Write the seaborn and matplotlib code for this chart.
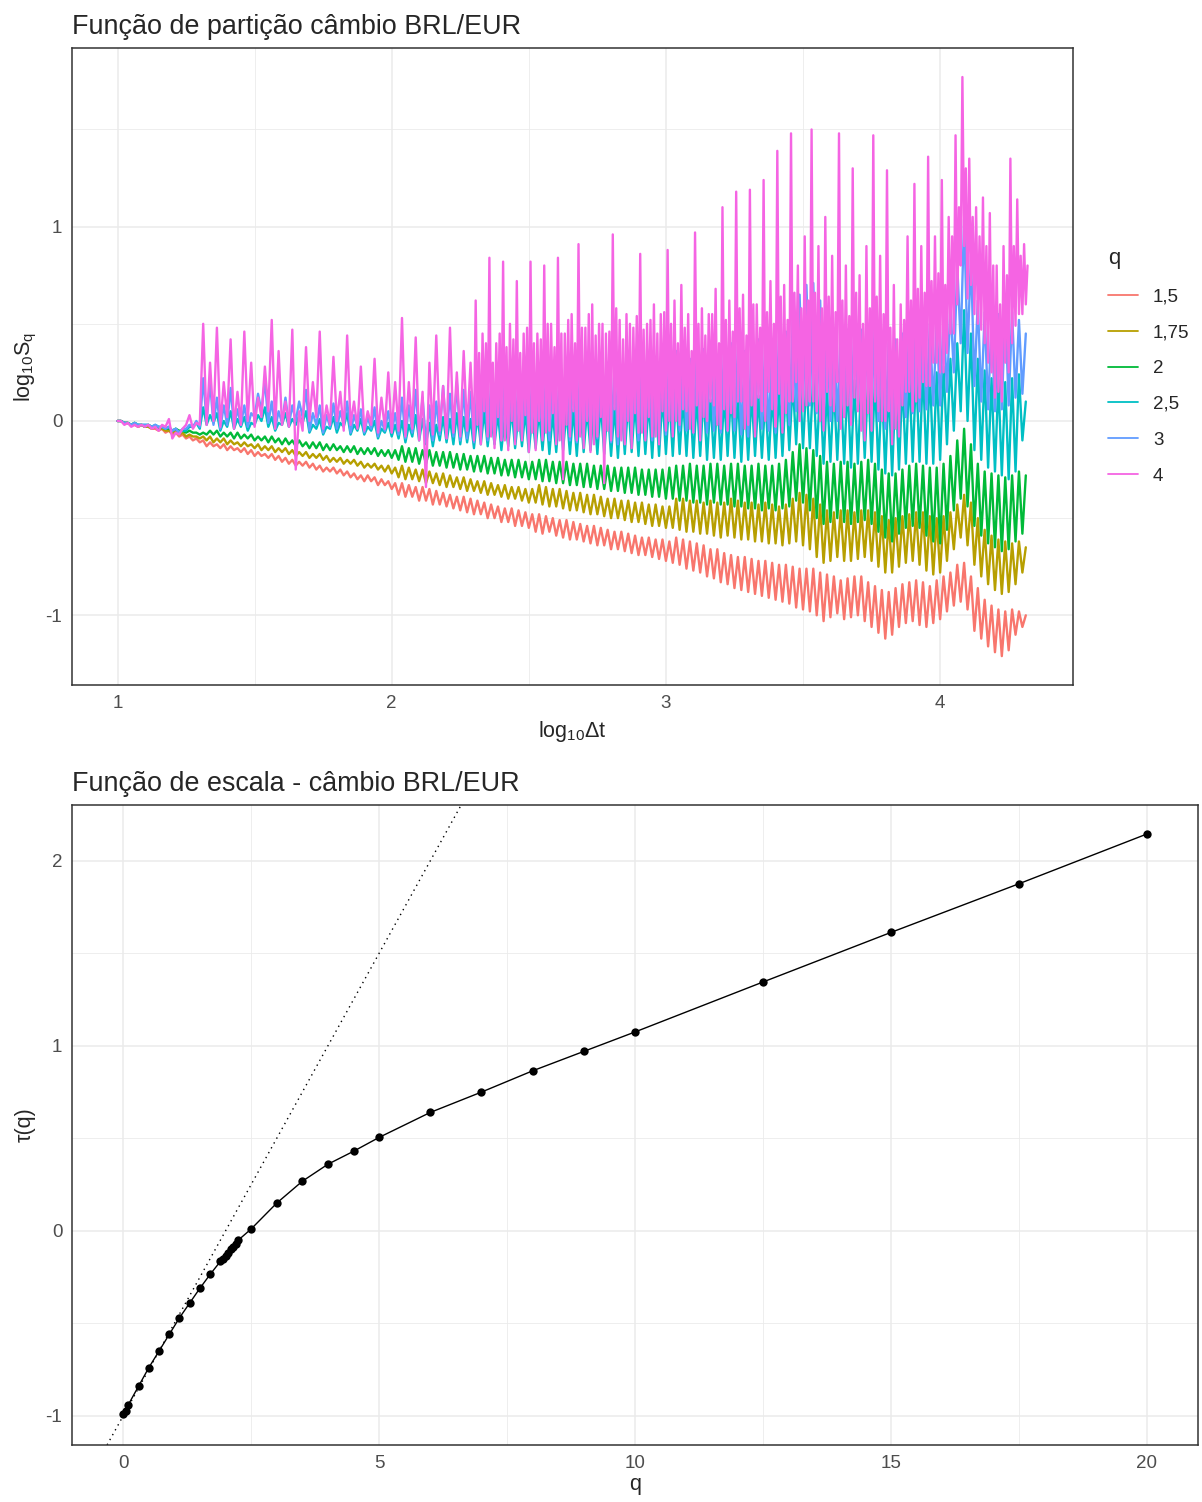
import numpy as np
import pandas as pd
import matplotlib
matplotlib.use("Agg")
import matplotlib.pyplot as plt
from matplotlib.lines import Line2D
from matplotlib.ticker import MultipleLocator
import seaborn as sns

# ---- Partition function: lower / upper readings of log10 S_q along log10(dt), step 0.025 ----
log_dt = np.round(1.0 + 0.025 * np.arange(133), 3)

q_levels = ["1,5", "1,75", "2", "2,5", "3", "4"]
q_colors = ["#F8766D", "#B79F00", "#00BA38", "#00BFC4", "#619CFF", "#F564E3"]

sq_15_lo = [0.00, -0.01, -0.02, -0.03, -0.03, -0.04, -0.05, -0.06, -0.07, -0.08, -0.09, -0.10, -0.11,
            -0.13, -0.13, -0.14, -0.15, -0.15, -0.16, -0.17, -0.18, -0.18, -0.19, -0.20, -0.21, -0.22, -0.23,
            -0.23, -0.24, -0.25, -0.26, -0.26, -0.27, -0.28, -0.29, -0.30, -0.31, -0.31, -0.33, -0.33, -0.35,
            -0.38, -0.39, -0.39, -0.41, -0.41, -0.43, -0.43, -0.44, -0.45, -0.46,
            -0.47, -0.48, -0.48, -0.50, -0.50, -0.52, -0.52, -0.54, -0.54, -0.55,
            -0.57, -0.58, -0.57, -0.59, -0.60, -0.61, -0.61, -0.62, -0.63, -0.64,
            -0.64, -0.66, -0.66, -0.67, -0.68, -0.69, -0.69, -0.70, -0.71, -0.72,
            -0.73, -0.74, -0.76, -0.77, -0.78, -0.80, -0.81, -0.83, -0.84, -0.86,
            -0.87, -0.88, -0.89, -0.90, -0.91, -0.92, -0.93, -0.94, -0.96, -0.97,
            -0.98, -1.00, -1.03, -1.01, -0.99, -1.02, -1.01, -1.00, -1.03, -1.06,
            -1.09, -1.12, -1.10, -1.06, -1.04, -1.03, -1.05, -1.06, -1.04, -1.02,
            -0.98, -0.95, -0.93, -0.97, -1.08, -1.12, -1.16, -1.19, -1.21, -1.18, -1.10, -1.06]
sq_15_hi = [0.00, -0.01, -0.02, -0.02, -0.03, -0.04, -0.04, -0.05, -0.06, -0.07, -0.08, -0.09, -0.10,
            -0.11, -0.12, -0.12, -0.13, -0.14, -0.14, -0.15, -0.16, -0.17, -0.17, -0.18, -0.19, -0.20, -0.21,
            -0.21, -0.22, -0.23, -0.24, -0.24, -0.25, -0.26, -0.27, -0.28, -0.28, -0.29, -0.30, -0.31, -0.32,
            -0.32, -0.33, -0.34, -0.34, -0.35, -0.36, -0.37, -0.38, -0.39, -0.39,
            -0.40, -0.41, -0.42, -0.43, -0.44, -0.45, -0.45, -0.46, -0.47, -0.48,
            -0.48, -0.49, -0.50, -0.51, -0.51, -0.52, -0.53, -0.54, -0.54, -0.55,
            -0.56, -0.57, -0.57, -0.58, -0.59, -0.60, -0.60, -0.61, -0.61, -0.62,
            -0.60, -0.61, -0.62, -0.63, -0.64, -0.66, -0.66, -0.68, -0.69, -0.70,
            -0.70, -0.71, -0.72, -0.72, -0.73, -0.74, -0.74, -0.75, -0.76, -0.76,
            -0.76, -0.78, -0.79, -0.80, -0.82, -0.81, -0.80, -0.80, -0.83, -0.85,
            -0.87, -0.88, -0.86, -0.84, -0.83, -0.82, -0.83, -0.85, -0.82, -0.80,
            -0.78, -0.74, -0.73, -0.80, -0.86, -0.92, -0.95, -0.97, -0.98, -0.97, -0.98, -1.00]

sq_175_lo = [0.00, -0.01, -0.02, -0.03, -0.03, -0.04, -0.04, -0.05, -0.06, -0.07, -0.08, -0.08, -0.09,
             -0.10, -0.11, -0.11, -0.12, -0.12, -0.13, -0.13, -0.14, -0.15, -0.15, -0.16, -0.16, -0.17, -0.18,
             -0.18, -0.19, -0.19, -0.20, -0.21, -0.21, -0.22, -0.22, -0.23, -0.24, -0.24, -0.25, -0.26, -0.27,
             -0.29, -0.30, -0.30, -0.31, -0.32, -0.32, -0.33, -0.34, -0.34, -0.35,
             -0.36, -0.36, -0.37, -0.38, -0.38, -0.39, -0.40, -0.40, -0.41, -0.42,
             -0.42, -0.43, -0.44, -0.44, -0.45, -0.46, -0.46, -0.47, -0.48, -0.48,
             -0.49, -0.50, -0.50, -0.51, -0.52, -0.52, -0.53, -0.54, -0.54, -0.55,
             -0.55, -0.56, -0.57, -0.57, -0.58, -0.58, -0.59, -0.60, -0.59, -0.60,
             -0.61, -0.61, -0.62, -0.62, -0.63, -0.63, -0.64, -0.63, -0.62, -0.64,
             -0.66, -0.70, -0.73, -0.72, -0.70, -0.72, -0.72, -0.71, -0.70, -0.72,
             -0.75, -0.78, -0.78, -0.75, -0.73, -0.72, -0.74, -0.77, -0.79, -0.78,
             -0.72, -0.66, -0.60, -0.64, -0.74, -0.80, -0.84, -0.87, -0.89, -0.88, -0.84, -0.78]
sq_175_hi = [0.00, -0.01, -0.01, -0.02, -0.03, -0.03, -0.04, -0.05, -0.05, -0.06, -0.07, -0.08, -0.08,
             -0.08, -0.09, -0.09, -0.10, -0.11, -0.11, -0.12, -0.12, -0.13, -0.13, -0.14, -0.14, -0.15, -0.16,
             -0.16, -0.17, -0.17, -0.18, -0.19, -0.19, -0.20, -0.20, -0.21, -0.22, -0.22, -0.23, -0.23, -0.24,
             -0.23, -0.24, -0.25, -0.25, -0.26, -0.27, -0.27, -0.28, -0.29, -0.29,
             -0.30, -0.31, -0.31, -0.32, -0.33, -0.33, -0.34, -0.34, -0.35, -0.35,
             -0.33, -0.34, -0.35, -0.35, -0.36, -0.37, -0.37, -0.38, -0.38, -0.39,
             -0.40, -0.40, -0.41, -0.41, -0.42, -0.42, -0.43, -0.43, -0.44, -0.44,
             -0.40, -0.40, -0.41, -0.41, -0.42, -0.41, -0.42, -0.42, -0.40, -0.41,
             -0.42, -0.42, -0.43, -0.42, -0.43, -0.44, -0.43, -0.40, -0.37, -0.38,
             -0.40, -0.43, -0.46, -0.47, -0.46, -0.46, -0.47, -0.46, -0.46, -0.47,
             -0.49, -0.51, -0.50, -0.49, -0.48, -0.47, -0.47, -0.49, -0.50, -0.49,
             -0.47, -0.43, -0.38, -0.42, -0.50, -0.56, -0.59, -0.61, -0.62, -0.63, -0.62, -0.65]

sq_2_lo = [0.00, -0.01, -0.02, -0.02, -0.03, -0.03, -0.04, -0.04, -0.05, -0.05, -0.06, -0.06, -0.07,
           -0.07, -0.07, -0.08, -0.08, -0.09, -0.09, -0.09, -0.10, -0.10, -0.11, -0.11, -0.12, -0.12, -0.13,
           -0.13, -0.14, -0.14, -0.15, -0.15, -0.15, -0.16, -0.16, -0.17, -0.17, -0.17, -0.18, -0.18, -0.19,
           -0.20, -0.21, -0.21, -0.22, -0.22, -0.23, -0.23, -0.24, -0.24, -0.25,
           -0.25, -0.26, -0.26, -0.27, -0.27, -0.28, -0.28, -0.29, -0.29, -0.30,
           -0.30, -0.31, -0.31, -0.32, -0.32, -0.33, -0.33, -0.34, -0.34, -0.35,
           -0.35, -0.36, -0.36, -0.37, -0.37, -0.38, -0.38, -0.39, -0.39, -0.40,
           -0.40, -0.41, -0.41, -0.42, -0.42, -0.43, -0.42, -0.43, -0.43, -0.44,
           -0.44, -0.45, -0.45, -0.46, -0.45, -0.46, -0.45, -0.44, -0.41, -0.42,
           -0.46, -0.50, -0.53, -0.52, -0.50, -0.52, -0.53, -0.52, -0.51, -0.53,
           -0.57, -0.60, -0.62, -0.58, -0.55, -0.54, -0.55, -0.59, -0.62, -0.63,
           -0.56, -0.46, -0.40, -0.44, -0.54, -0.59, -0.63, -0.65, -0.67, -0.66, -0.62, -0.58]
sq_2_hi = [0.00, -0.01, -0.01, -0.02, -0.02, -0.03, -0.03, -0.04, -0.04, -0.05, -0.05, -0.06, -0.06,
           -0.05, -0.05, -0.06, -0.06, -0.06, -0.07, -0.07, -0.08, -0.08, -0.08, -0.09, -0.09, -0.10, -0.10,
           -0.11, -0.11, -0.11, -0.12, -0.12, -0.13, -0.13, -0.13, -0.14, -0.14, -0.14, -0.15, -0.15, -0.15,
           -0.13, -0.14, -0.14, -0.15, -0.15, -0.16, -0.16, -0.16, -0.17, -0.17,
           -0.18, -0.18, -0.18, -0.19, -0.19, -0.20, -0.20, -0.20, -0.21, -0.21,
           -0.20, -0.20, -0.21, -0.21, -0.21, -0.22, -0.22, -0.22, -0.23, -0.23,
           -0.23, -0.24, -0.24, -0.24, -0.24, -0.25, -0.25, -0.25, -0.25, -0.24,
           -0.23, -0.23, -0.22, -0.23, -0.23, -0.22, -0.22, -0.23, -0.22, -0.22,
           -0.23, -0.23, -0.22, -0.23, -0.23, -0.22, -0.20, -0.16, -0.12, -0.14,
           -0.15, -0.18, -0.21, -0.22, -0.21, -0.21, -0.22, -0.21, -0.20, -0.22,
           -0.25, -0.27, -0.27, -0.25, -0.23, -0.22, -0.23, -0.24, -0.24, -0.22,
           -0.18, -0.10, -0.04, -0.12, -0.22, -0.26, -0.27, -0.28, -0.29, -0.28, -0.26, -0.28]

sq_25_lo = [0.00, -0.01, -0.02, -0.02, -0.02, -0.03, -0.03, -0.04, -0.05, -0.06, -0.05, -0.03, -0.04,
            -0.02, -0.01, -0.05, -0.03, -0.04, -0.03, -0.05, -0.02, 0.00, -0.03, -0.05, -0.02, -0.03, -0.02,
            -0.01, -0.06, -0.04, -0.07, -0.04, -0.06, -0.03, -0.07, -0.05, -0.07, -0.05, -0.09, -0.06, -0.08,
            -0.09, -0.11, -0.08, -0.10, -0.12, -0.13, -0.10, -0.11, -0.12, -0.12,
            -0.11, -0.14, -0.12, -0.13, -0.12, -0.15, -0.13, -0.14, -0.13, -0.16,
            -0.14, -0.15, -0.17, -0.16, -0.15, -0.17, -0.18, -0.16, -0.15, -0.17,
            -0.17, -0.18, -0.19, -0.17, -0.16, -0.18, -0.17, -0.19, -0.18, -0.17,
            -0.18, -0.17, -0.18, -0.19, -0.18, -0.20, -0.19, -0.20, -0.18, -0.19,
            -0.21, -0.20, -0.18, -0.19, -0.20, -0.19, -0.18, -0.15, -0.12, -0.14,
            -0.14, -0.18, -0.22, -0.21, -0.20, -0.22, -0.24, -0.22, -0.19, -0.21,
            -0.25, -0.27, -0.28, -0.25, -0.22, -0.21, -0.21, -0.22, -0.22, -0.20,
            -0.12, -0.05, 0.05, 0.00, -0.15, -0.20, -0.24, -0.26, -0.28, -0.30, -0.26, -0.10]
sq_25_hi = [0.00, -0.01, -0.01, -0.02, -0.02, -0.02, -0.03, -0.03, -0.04, -0.05, -0.03, -0.01, 0.07,
            0.03, 0.04, 0.00, 0.05, 0.01, 0.02, -0.01, 0.03, 0.07, 0.02, -0.01, 0.04, 0.01, 0.03,
            0.05, -0.02, 0.01, -0.03, 0.02, -0.01, 0.04, -0.02, 0.01, -0.03, 0.00, -0.04, -0.01, -0.02,
            0.00, -0.02, 0.03, 0.01, -0.01, -0.02, 0.02, 0.01, 0.04, 0.02,
            0.01, 0.03, 0.05, 0.03, 0.04, 0.02, 0.06, 0.04, 0.05, 0.03,
            0.05, 0.06, 0.04, 0.07, 0.05, 0.06, 0.08, 0.06, 0.07, 0.09,
            0.08, 0.07, 0.09, 0.10, 0.09, 0.11, 0.10, 0.12, 0.13, 0.12,
            0.14, 0.12, 0.13, 0.12, 0.14, 0.11, 0.12, 0.13, 0.15, 0.13,
            0.12, 0.14, 0.13, 0.12, 0.14, 0.15, 0.17, 0.20, 0.25, 0.22,
            0.24, 0.18, 0.16, 0.18, 0.19, 0.20, 0.21, 0.22, 0.22, 0.21,
            0.19, 0.18, 0.19, 0.21, 0.24, 0.26, 0.27, 0.26, 0.25, 0.28,
            0.32, 0.40, 0.57, 0.45, 0.32, 0.26, 0.22, 0.21, 0.20, 0.22, 0.24, 0.10]

sq_3_lo = [0.00, -0.01, -0.02, -0.02, -0.02, -0.03, -0.03, -0.04, -0.05, -0.06, -0.04, -0.03, -0.03,
           0.00, -0.02, -0.04, -0.02, -0.03, -0.02, -0.03, 0.02, 0.05, -0.01, -0.04, -0.01, -0.02, 0.00,
           0.02, -0.05, -0.02, -0.06, -0.03, -0.04, -0.02, -0.06, -0.03, -0.06, -0.04, -0.08, -0.05, -0.06,
           -0.07, -0.09, -0.06, -0.08, -0.11, -0.10, -0.07, -0.09, -0.08, -0.10,
           -0.09, -0.11, -0.09, -0.10, -0.11, -0.10, -0.08, -0.10, -0.09, -0.11,
           -0.08, -0.09, -0.10, -0.09, -0.08, -0.10, -0.11, -0.09, -0.08, -0.09,
           -0.10, -0.11, -0.12, -0.10, -0.09, -0.10, -0.09, -0.10, -0.08, -0.07,
           -0.06, -0.05, -0.05, -0.06, -0.07, -0.06, -0.05, -0.06, -0.05, -0.05,
           -0.07, -0.08, -0.05, -0.04, -0.05, -0.06, -0.03, -0.02, 0.05, 0.08,
           0.08, 0.04, -0.02, 0.00, 0.00, 0.02, 0.05, 0.10, 0.14, 0.08,
           0.00, -0.04, -0.05, 0.00, 0.02, 0.04, 0.05, 0.06, 0.08, 0.08,
           0.15, 0.25, 0.40, 0.35, 0.18, 0.10, 0.06, 0.05, 0.06, 0.08, 0.12, 0.14]
sq_3_hi = [0.00, -0.01, -0.01, -0.02, -0.02, -0.02, -0.03, -0.03, -0.04, -0.04, -0.02, 0.00, 0.22,
           0.20, 0.12, 0.08, 0.17, 0.06, 0.08, 0.04, 0.14, 0.21, 0.10, 0.05, 0.12, 0.08, 0.10,
           0.16, 0.04, 0.08, 0.03, 0.09, 0.05, 0.10, 0.03, 0.06, 0.02, 0.07, 0.00, 0.05, 0.04,
           0.12, 0.08, 0.16, 0.12, 0.08, 0.10, 0.18, 0.14, 0.20, 0.16,
           0.15, 0.18, 0.22, 0.19, 0.18, 0.21, 0.24, 0.22, 0.20, 0.23,
           0.24, 0.22, 0.26, 0.25, 0.24, 0.27, 0.28, 0.26, 0.25, 0.29,
           0.30, 0.28, 0.27, 0.30, 0.31, 0.30, 0.32, 0.33, 0.34, 0.35,
           0.36, 0.34, 0.32, 0.35, 0.37, 0.36, 0.34, 0.38, 0.40, 0.38,
           0.36, 0.40, 0.42, 0.41, 0.40, 0.44, 0.46, 0.52, 0.65, 0.70,
           0.71, 0.62, 0.48, 0.47, 0.46, 0.47, 0.48, 0.47, 0.49, 0.52,
           0.46, 0.40, 0.42, 0.45, 0.50, 0.55, 0.52, 0.50, 0.51, 0.54,
           0.60, 0.80, 1.04, 0.85, 0.62, 0.56, 0.52, 0.55, 0.59, 0.56, 0.52, 0.45]

sq_4_lo = [0.00, -0.02, -0.03, -0.03, -0.03, -0.04, -0.05, -0.03, -0.09, -0.07, -0.02, -0.04, -0.02,
           -0.02, 0.00, -0.03, 0.02, -0.04, -0.02, 0.00, -0.03, 0.02, 0.05, -0.04, -0.02, -0.03, -0.25,
           -0.05, 0.00, 0.02, -0.04, -0.02, 0.00, -0.05, -0.02, -0.04, -0.05, -0.02, -0.06, -0.04, -0.06,
           -0.05, -0.08, -0.04, -0.10, -0.34, -0.07, -0.05, -0.09, -0.06, -0.08,
           -0.05, -0.10, -0.12, -0.08, -0.14, -0.10, -0.15, -0.12, -0.10, -0.16,
           -0.15, -0.10, -0.05, -0.12, -0.30, -0.08, -0.10, -0.14, -0.16, -0.08,
           -0.32, -0.10, -0.08, -0.12, -0.14, -0.06, -0.10, -0.08, -0.12, -0.05,
           -0.08, -0.02, 0.05, -0.06, -0.10, 0.00, 0.08, -0.04, -0.05, 0.02,
           0.10, -0.02, -0.08, 0.05, 0.15, -0.03, -0.06, 0.10, 0.20, 0.05,
           0.10, 0.05, -0.05, 0.08, 0.20, 0.02, -0.02, 0.05, -0.10, -0.05,
           0.05, 0.00, -0.12, -0.08, 0.15, 0.05, 0.12, 0.18, 0.30, 0.25,
           0.35, 0.45, 0.80, 0.63, 0.55, 0.47, 0.30, 0.12, 0.10, 0.25, 0.49, 0.55]
sq_4_hi = [0.00, -0.01, -0.02, -0.02, -0.02, -0.03, -0.02, 0.01, -0.06, -0.04, 0.03, -0.01, 0.50,
           0.30, 0.48, 0.20, 0.42, 0.15, 0.46, 0.30, 0.12, 0.28, 0.52, 0.36, 0.10, 0.47, 0.05,
           0.38, 0.20, 0.46, 0.08, 0.33, 0.15, 0.44, 0.10, 0.28, 0.05, 0.32, 0.12, 0.25, 0.20,
           0.53, 0.20, 0.43, 0.15, 0.30, 0.44, 0.18, 0.48, 0.25, 0.36,
           0.30, 0.62, 0.45, 0.84, 0.40, 0.82, 0.50, 0.72, 0.45, 0.82,
           0.45, 0.80, 0.50, 0.84, 0.45, 0.55, 0.91, 0.48, 0.60, 0.50,
           0.45, 0.96, 0.52, 0.55, 0.48, 0.86, 0.50, 0.60, 0.55, 0.88,
           0.62, 0.70, 0.55, 0.97, 0.58, 0.55, 0.68, 1.10, 0.62, 1.18,
           0.65, 1.19, 0.60, 1.24, 0.72, 1.39, 0.70, 1.48, 0.80, 0.95,
           1.50, 0.90, 1.05, 0.85, 1.48, 0.80, 1.30, 0.75, 0.90, 1.47,
           0.85, 1.29, 0.70, 0.60, 0.95, 1.22, 0.90, 1.36, 0.95, 1.24,
           1.05, 1.47, 1.77, 1.35, 1.10, 1.15, 1.07, 0.80, 0.90, 1.35, 1.14, 0.91]
# q = 4 is sampled twice as finely from log10(dt) = 2.3 on (dense part of the band)
dense_from = 52
sq_4_lo2 = [-0.02, 0.05, -0.08, 0.02, -0.10, 0.00, -0.05, 0.03, -0.06,
            0.00, -0.06, 0.04, -0.10, -0.02, 0.05, -0.08, 0.00, -0.12, 0.02,
            -0.05, 0.06, -0.10, 0.00, 0.04, -0.06, 0.02, -0.08, 0.05, 0.00,
            0.00, 0.06, -0.04, 0.08, 0.02, 0.10, -0.02, 0.06, 0.04, 0.10,
            -0.04, 0.08, 0.12, 0.00, 0.06, 0.14, 0.04, 0.10, 0.00, 0.08,
            0.10, 0.00, 0.15, 0.05, -0.04, 0.08, 0.12, -0.05, 0.04, 0.10,
            0.00, 0.05, -0.04, 0.08, 0.15, 0.10, 0.20, 0.18, 0.30, 0.25,
            0.45, 0.60, 0.90, 0.70, 0.50, 0.40, 0.25, 0.15, 0.30, 0.40, 0.55, 0.60]
sq_4_mid = [0.35, 0.40, 0.30, 0.45, 0.38, 0.42, 0.35, 0.48, 0.40,
            0.42, 0.50, 0.38, 0.45, 0.52, 0.40, 0.48, 0.55, 0.44, 0.50,
            0.46, 0.58, 0.42, 0.50, 0.54, 0.47, 0.52, 0.45, 0.56, 0.50,
            0.40, 0.48, 0.36, 0.50, 0.44, 0.55, 0.40, 0.52, 0.46, 0.58,
            0.44, 0.60, 0.48, 0.56, 0.50, 0.64, 0.52, 0.66, 0.58, 0.62,
            0.66, 0.58, 0.64, 0.56, 0.62, 0.54, 0.66, 0.50, 0.58, 0.64,
            0.55, 0.48, 0.42, 0.52, 0.62, 0.68, 0.66, 0.72, 0.76, 0.70,
            0.95, 1.10, 1.30, 1.05, 0.95, 0.90, 0.80, 0.60, 0.75, 0.90, 0.85, 0.80]

# ---- Scaling function tau(q) ----
q_vals = [0, 0.05, 0.1, 0.3, 0.5, 0.7, 0.9, 1.1, 1.3, 1.5, 1.7, 1.9, 1.95, 2.0, 2.05, 2.1,
          2.15, 2.2, 2.25, 2.5, 3, 3.5, 4, 4.5, 5, 6, 7, 8, 9, 10, 12.5, 15, 17.5, 20]
tau_vals = [-0.99, -0.975, -0.94, -0.84, -0.74, -0.65, -0.56, -0.47, -0.39, -0.31, -0.235,
            -0.165, -0.15, -0.135, -0.12, -0.10, -0.085, -0.07, -0.05, 0.01, 0.15, 0.268,
            0.36, 0.43, 0.505, 0.64, 0.75, 0.865, 0.97, 1.075, 1.345, 1.613, 1.876, 2.145]
hurst_ref = 0.5  # reference line tau = H*q - 1

lows = [sq_15_lo, sq_175_lo, sq_2_lo, sq_25_lo, sq_3_lo]
highs = [sq_15_hi, sq_175_hi, sq_2_hi, sq_25_hi, sq_3_hi]

# each reading step: low reading, then high reading half a step later
x_pts = np.column_stack([log_dt, log_dt + 0.0125]).ravel()
frames = []
for lab, lo, hi in zip(q_levels[:5], lows, highs):
    y_pts = np.column_stack([lo, hi]).ravel()
    frames.append(pd.DataFrame({"log_dt": x_pts, "log_sq": y_pts, "q": lab}))

n = dense_from
xd = log_dt[n:]
x4 = np.concatenate([
    np.column_stack([log_dt[:n], log_dt[:n] + 0.0125]).ravel(),
    np.column_stack([xd, xd + 0.00625, xd + 0.0125, xd + 0.01875]).ravel(),
])
y4 = np.concatenate([
    np.column_stack([sq_4_lo[:n], sq_4_hi[:n]]).ravel(),
    np.column_stack([sq_4_lo[n:], sq_4_hi[n:], sq_4_lo2, sq_4_mid]).ravel(),
])
frames.append(pd.DataFrame({"log_dt": x4, "log_sq": y4, "q": q_levels[5]}))
part_df = pd.concat(frames, ignore_index=True)
tau_df = pd.DataFrame({"q": q_vals, "tau": tau_vals})

# ---- Style (ggplot theme_bw look) ----
sns.set_style("white")
plt.rcParams["font.family"] = ["Liberation Sans", "DejaVu Sans"]
plt.rcParams["mathtext.fontset"] = "custom"
plt.rcParams["mathtext.rm"] = "Liberation Sans"
plt.rcParams["mathtext.it"] = "Liberation Sans:italic"

fig = plt.figure(figsize=(12.02, 15.02), dpi=100)
ax1 = fig.add_axes([0.0599, 0.5439, 0.8328, 0.4241])
ax2 = fig.add_axes([0.0599, 0.0380, 0.9368, 0.4261])


def style_axis(ax, minor_x, minor_y):
    ax.xaxis.set_minor_locator(MultipleLocator(minor_x))
    ax.yaxis.set_minor_locator(MultipleLocator(minor_y))
    ax.grid(True, which="major", color="#EBEBEB", linewidth=1.1)
    ax.grid(True, which="minor", color="#EBEBEB", linewidth=0.6)
    ax.set_axisbelow(True)
    for sp in ax.spines.values():
        sp.set_color("#333333")
        sp.set_linewidth(1.1)
    ax.tick_params(which="major", direction="out", length=4, width=0.9, color="#333333",
                   labelcolor="#4D4D4D", labelsize=13.5, pad=3)
    ax.tick_params(which="minor", length=0)


# top panel
sns.lineplot(data=part_df, x="log_dt", y="log_sq", hue="q", hue_order=q_levels,
             palette=q_colors, sort=False, estimator=None, linewidth=1.7, legend=False, ax=ax1)
ax1.set_xticks([1, 2, 3, 4])
ax1.set_yticks([-1, 0, 1])
ax1.set_yticklabels(["-1", "0", "1"])
style_axis(ax1, 0.5, 0.5)
ax1.set_xlabel(r"log$_{10}$Δt", fontsize=15.5, labelpad=5)
ax1.set_ylabel(r"log$_{10}$S$_{\mathrm{q}}$", fontsize=15.5, labelpad=5)
ax1.set_title("Função de partição câmbio BRL/EUR", loc="left", fontsize=19.4, pad=10)

handles = [Line2D([0], [0], color=c, linewidth=1.3) for c in q_colors]
leg = ax1.legend(handles, q_levels, title="q", loc="center left", bbox_to_anchor=(1.018, 0.5),
                 frameon=False, fontsize=13.5, title_fontsize=16, handlelength=1.6,
                 labelspacing=1.0, handletextpad=0.8)
leg._legend_box.align = "left"

# bottom panel
ax2.axline((0, -1), slope=hurst_ref, color="black", linestyle=(0, (1, 3)), linewidth=1.0)
sns.lineplot(data=tau_df, x="q", y="tau", color="black", linewidth=1.0, sort=False,
             estimator=None, ax=ax2)
sns.scatterplot(data=tau_df, x="q", y="tau", color="black", s=36, edgecolor="black",
                linewidth=0, ax=ax2)
ax2.set_xticks([0, 5, 10, 15, 20])
ax2.set_yticks([-1, 0, 1, 2])
ax2.set_yticklabels(["-1", "0", "1", "2"])
style_axis(ax2, 2.5, 0.5)
ax2.set_xlabel("q", fontsize=15.5, labelpad=2)
ax2.set_ylabel("τ(q)", fontsize=15.5, labelpad=7)
ax2.set_title("Função de escala - câmbio BRL/EUR", loc="left", fontsize=19.4, pad=10)

fig.savefig("out.png", dpi=100)
